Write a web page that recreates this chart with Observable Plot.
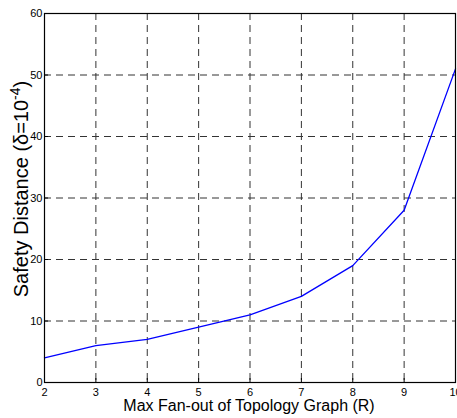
<!DOCTYPE html>
<html><head><meta charset="utf-8">
<script src="https://cdn.jsdelivr.net/npm/d3@7"></script>
<script src="https://cdn.jsdelivr.net/npm/@observablehq/plot@0.6"></script>
<style>body{margin:0;background:#fff}svg{display:block}</style>
</head><body><div id="chart"></div>
<script>
const fanOut = [2, 3, 4, 5, 6, 7, 8, 9, 10];
const safetyDistance = [4, 6, 7, 9, 11, 14, 19, 28, 51];
const xTicks = [2, 3, 4, 5, 6, 7, 8, 9, 10];
const yTicks = [0, 10, 20, 30, 40, 50, 60];
const xLabel = "Max Fan-out of Topology Graph (R)";

const data = fanOut.map((r, i) => ({r, d: safetyDistance[i]}));
const font = "Liberation Sans, Arial, sans-serif";

const plot = Plot.plot({
  width: 457, height: 418,
  marginLeft: 44, marginRight: 2, marginTop: 13, marginBottom: 36,
  style: {fontFamily: font, fontSize: "11px", background: "#fff", color: "#000"},
  x: {domain: [2, 10]},
  y: {domain: [0, 60]},
  marks: [
    Plot.ruleX(xTicks.slice(1, -1), {stroke: "#333", strokeDasharray: "7,5", strokeWidth: 1}),
    Plot.ruleY(yTicks.slice(1, -1), {stroke: "#333", strokeDasharray: "7,5", strokeWidth: 1}),
    Plot.axisX(xTicks, {tickSize: -4, tickPadding: 10, label: null, fontSize: 11, stroke: "#000"}),
    Plot.axisY(yTicks, {tickSize: -4, tickPadding: 6, label: null, fontSize: 11, stroke: "#000"}),
    Plot.line(data, {x: "r", y: "d", stroke: "#0000ff", strokeWidth: 1.3}),
    Plot.frame({stroke: "#000", strokeWidth: 1.2})
  ]
});
document.getElementById("chart").appendChild(plot);

const svg = d3.select(plot);
svg.append("text")
  .attr("x", 249).attr("y", 411)
  .attr("text-anchor", "middle")
  .attr("font-family", font).attr("font-size", 16)
  .text(xLabel);
const yl = svg.append("text")
  .attr("transform", "translate(28,189) rotate(-90)")
  .attr("text-anchor", "middle")
  .attr("font-family", font).attr("font-size", 20);
yl.append("tspan").text("Safety Distance (δ=10");
yl.append("tspan").attr("dy", -8).attr("font-size", 14).text("-4");
yl.append("tspan").attr("dy", 8).text(")");
</script></body></html>
